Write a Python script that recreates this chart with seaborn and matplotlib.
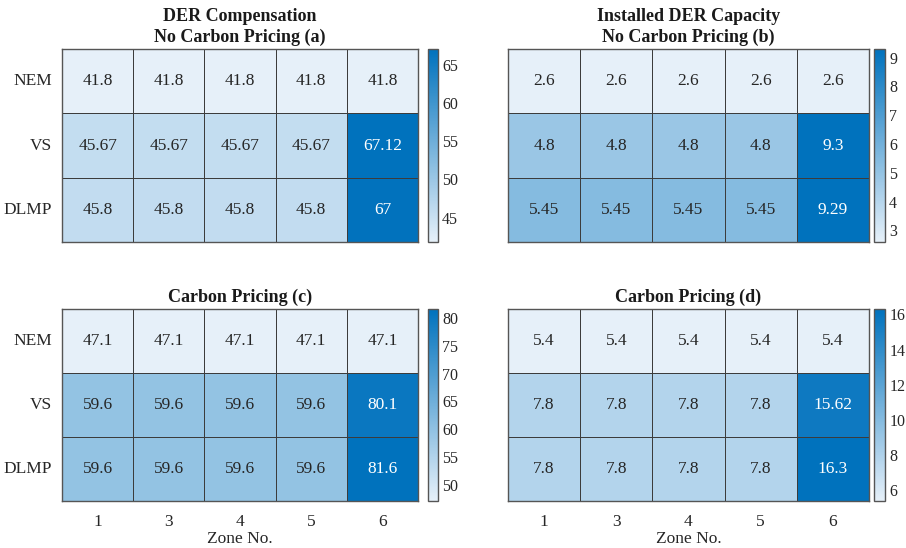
import matplotlib
matplotlib.use("Agg")
import matplotlib.pyplot as plt
from matplotlib.colors import LinearSegmentedColormap
import numpy as np
import seaborn as sns

# -------------data-------------
zones = ["1", "3", "4", "5", "6"]
schemes = ["NEM", "VS", "DLMP"]

comp_no_carbon = [[41.8, 41.8, 41.8, 41.8, 41.8],
                  [45.67, 45.67, 45.67, 45.67, 67.12],
                  [45.8, 45.8, 45.8, 45.8, 67]]
cap_no_carbon = [[2.6, 2.6, 2.6, 2.6, 2.6],
                 [4.8, 4.8, 4.8, 4.8, 9.3],
                 [5.45, 5.45, 5.45, 5.45, 9.29]]
comp_carbon = [[47.1, 47.1, 47.1, 47.1, 47.1],
               [59.6, 59.6, 59.6, 59.6, 80.1],
               [59.6, 59.6, 59.6, 59.6, 81.6]]
cap_carbon = [[5.4, 5.4, 5.4, 5.4, 5.4],
              [7.8, 7.8, 7.8, 7.8, 15.62],
              [7.8, 7.8, 7.8, 7.8, 16.3]]

titles = ["DER Compensation\nNo Carbon Pricing (a)",
          "Installed DER Capacity\nNo Carbon Pricing (b)",
          "Carbon Pricing (c)",
          "Carbon Pricing (d)"]
cbar_ticks = [[45, 50, 55, 60, 65],
              [3, 4, 5, 6, 7, 8, 9],
              [50, 55, 60, 65, 70, 75, 80],
              [6, 8, 10, 12, 14, 16]]

# -------------style-------------
sns.set_style("white")
plt.rcParams['font.family'] = ['Liberation Serif', 'DejaVu Serif']
plt.rcParams['text.color'] = '#262626'
plt.rcParams['axes.labelcolor'] = '#262626'
plt.rcParams['xtick.color'] = '#262626'
plt.rcParams['ytick.color'] = '#262626'

colormap = LinearSegmentedColormap.from_list("matlab_blue", ["#e6f0f9", "#0072bd"])

W, H = 906, 548
fig = plt.figure(figsize=(W / 100, H / 100), dpi=100)

def box(x0, y0, x1, y1):
    return [x0 / W, 1 - y1 / H, (x1 - x0) / W, (y1 - y0) / H]

panels = [
    (comp_no_carbon, box(62, 49, 418, 242), box(428, 49, 438, 242), True, False),
    (cap_no_carbon, box(508, 49, 869, 242), box(874, 49, 885, 242), False, False),
    (comp_carbon, box(62, 309, 418, 501), box(428, 309, 438, 501), True, True),
    (cap_carbon, box(508, 309, 869, 501), box(874, 309, 885, 501), False, True),
]

for i, (vals, ax_pos, cb_pos, show_y, show_x) in enumerate(panels):
    data = np.array(vals)
    labels = np.array([[f"{v:g}" for v in row] for row in vals])
    ax = fig.add_axes(ax_pos)
    cax = fig.add_axes(cb_pos)
    sns.heatmap(data, cmap=colormap, vmin=data.min(), vmax=data.max(),
                annot=labels, fmt="", annot_kws={"fontsize": 12.5},
                linewidths=0.7, linecolor="#3c3c3c",
                xticklabels=zones, yticklabels=schemes,
                ax=ax, cbar_ax=cax)
    for s in ax.spines.values():
        s.set_visible(True)
        s.set_color("#555555")
        s.set_linewidth(1)
    ax.set_title(titles[i], fontsize=13, fontweight="bold", pad=5,
                 linespacing=1.25, color="#1a1a1a")
    ax.tick_params(axis='both', length=0, labelsize=12.5)
    ax.tick_params(axis='y', rotation=0, pad=7)
    ax.tick_params(axis='x', pad=9)
    if not show_y:
        ax.set_yticklabels([])
    if show_x:
        ax.set_xlabel("Zone No.", fontsize=12.5, labelpad=1)
    else:
        ax.set_xticklabels([])

    cbar = ax.collections[0].colorbar
    cbar.set_ticks(cbar_ticks[i])
    cbar.ax.tick_params(labelsize=11.5, direction='in', length=3,
                        width=0.8, pad=3)
    cbar.outline.set_visible(True)
    cbar.outline.set_edgecolor("#555555")
    cbar.outline.set_linewidth(1)

fig.savefig("out.png", dpi=100)
